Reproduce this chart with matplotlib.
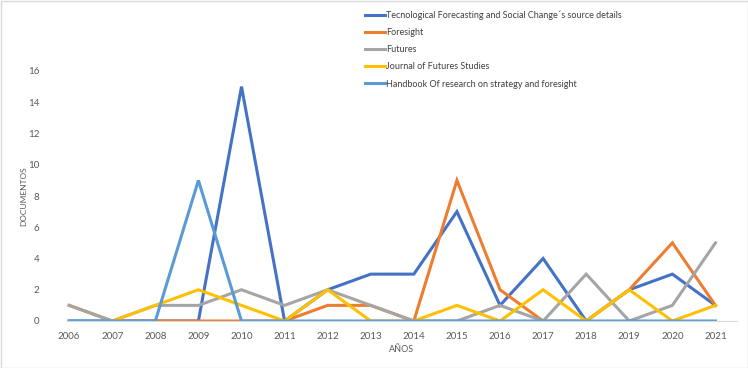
import matplotlib
matplotlib.use("Agg")
import matplotlib.pyplot as plt
import numpy as np
from matplotlib.patches import Rectangle

years = [2006, 2007, 2008, 2009, 2010, 2011, 2012, 2013, 2014, 2015, 2016, 2017, 2018, 2019, 2020, 2021]
tfsc = [0, 0, 0, 0, 15, 0, 2, 3, 3, 7, 1, 4, 0, 2, 3, 1]
foresight = [1, 0, 0, 0, 0, 0, 1, 1, 0, 9, 2, 0, 0, 2, 5, 1]
futures = [1, 0, 1, 1, 2, 1, 2, 1, 0, 0, 1, 0, 3, 0, 1, 5]
jfs = [np.nan, 0, 1, 2, 1, 0, 2, 0, 0, 1, 0, 2, 0, 2, 0, 1]
handbook = [0, 0, 0, 9, 0, 0, 0, 0, 0, 0, 0, 0, 0, 0, 0, 0]

labels = ["Tecnological Forecasting and Social Change\u00b4s source details",
          "Foresight", "Futures", "Journal of Futures Studies",
          "Handbook Of research on strategy and foresight"]
colors = ["#4472C4", "#ED7D31", "#A5A5A5", "#FFC000", "#5B9BD5"]
series = [tfsc, foresight, futures, jfs, handbook]

plt.rcParams['font.family'] = ['Lato', 'DejaVu Sans']

fig = plt.figure(figsize=(7.48, 3.68), dpi=100)
ax = fig.add_axes([67/748, 1 - 321/368, (737 - 67)/748, (321 - 71)/368])

for s, c, l in zip(series, colors, labels):
    ax.plot(years, s, color=c, lw=2.2, label=l, solid_joinstyle='miter')

ax.set_xlim(2005.95, 2021.5)
ax.set_ylim(0, 16)
ax.set_xticks(years)
ax.set_xticklabels([str(y) for y in years])
ax.set_yticks(range(0, 17, 2))
ax.tick_params(axis='both', length=0, labelsize=7, colors="#595959")
ax.tick_params(axis='x', pad=8)
ax.tick_params(axis='y', pad=20)
for sp in ['top', 'right', 'left']:
    ax.spines[sp].set_visible(False)
ax.spines['bottom'].set_color("#D9D9D9")
ax.spines['bottom'].set_linewidth(0.8)

ax.set_xlabel("AÑOS", fontsize=6.5, color="#595959", labelpad=3)
ax.set_ylabel("DOCUMENTOS", fontsize=6, color="#595959", labelpad=0.5)

leg = fig.legend(loc='upper left', bbox_to_anchor=(361/748, 1 - 7/368),
                 frameon=False, fontsize=6.5, handlelength=2.3, handletextpad=0.1,
                 labelspacing=0.9, borderaxespad=0)
for t in leg.get_texts():
    t.set_color("#404040")

fig.patches.append(Rectangle((0.5/748, 0.5/368), 1 - 1/748, 1 - 1/368,
                             transform=fig.transFigure, fill=False,
                             edgecolor="#D9D9D9", lw=1.0))

fig.savefig("out.png", dpi=100)
